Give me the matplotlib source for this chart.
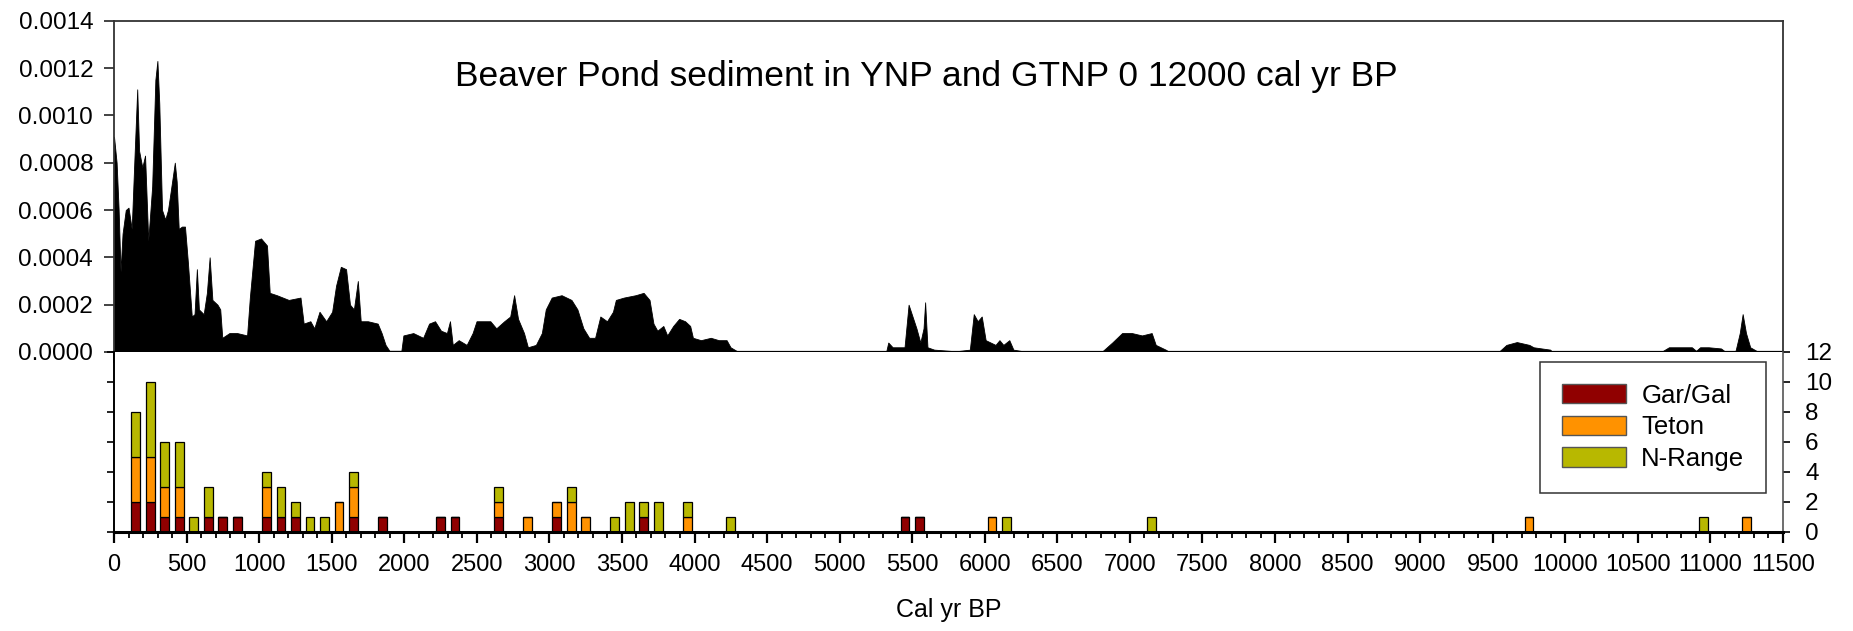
import matplotlib
matplotlib.use("Agg")
import matplotlib.pyplot as plt
from matplotlib.patches import Patch
from matplotlib.ticker import MultipleLocator, FormatStrFormatter
import numpy as np

plt.rcParams['font.family'] = ['Liberation Sans', 'DejaVu Sans']

# ---------------- top panel: charcoal-like record ----------------
ages = [0, 18, 32, 45, 59, 81, 100, 122, 141, 160, 173, 195, 214, 236, 263, 285, 299, 312, 331, 353,
        372, 391, 419, 432, 446, 468, 489, 509, 536, 555, 571, 585, 618, 640, 659, 678, 713, 732, 746, 795,
        849, 917, 936, 972, 1013, 1054, 1073, 1122, 1204, 1285, 1307, 1353, 1380, 1416, 1462, 1503, 1530, 1563, 1599, 1626,
        1653, 1680, 1700, 1749, 1817, 1844, 1871, 1898, 1980, 1994, 2062, 2130, 2171, 2212, 2253, 2294, 2315, 2334, 2375, 2430,
        2471, 2498, 2593, 2634, 2689, 2730, 2757, 2784, 2825, 2852, 2907, 2948, 2975, 3016, 3084, 3152, 3193, 3234, 3274, 3315,
        3351, 3397, 3438, 3458, 3513, 3594, 3649, 3690, 3717, 3744, 3785, 3812, 3853, 3894, 3935, 3970, 3989, 4044, 4112, 4167,
        4221, 4248, 4289, 4330, 5320, 5335, 5365, 5447, 5475, 5502, 5529, 5556, 5578, 5589, 5605, 5651, 5801, 5897, 5924, 5951,
        5979, 6006, 6074, 6101, 6128, 6169, 6197, 6265, 6810, 6878, 6946, 7014, 7083, 7150, 7178, 7246, 7273, 9540, 9594, 9666,
        9752, 9781, 9838, 9896, 9910, 10660, 10714, 10786, 10872, 10901, 10929, 10987, 11073, 11101, 11173, 11202, 11222, 11245, 11274, 11317,
        11331]
influx = [9.1e-4, 8.0e-4, 6.0e-4, 3.4e-4, 5.0e-4, 6.0e-4, 6.1e-4, 5.2e-4, 8.2e-4, 11.1e-4, 8.5e-4, 7.8e-4, 8.3e-4, 4.7e-4, 7.0e-4, 11.5e-4, 12.3e-4, 10.5e-4, 6.0e-4, 5.6e-4,
          6.0e-4, 6.8e-4, 8.0e-4, 7.2e-4, 5.2e-4, 5.3e-4, 5.3e-4, 3.8e-4, 1.5e-4, 1.6e-4, 3.5e-4, 1.8e-4, 1.6e-4, 2.5e-4, 4.0e-4, 2.2e-4, 2.0e-4, 1.8e-4, 0.6e-4, 0.8e-4,
          0.8e-4, 0.7e-4, 2.3e-4, 4.7e-4, 4.8e-4, 4.5e-4, 2.5e-4, 2.4e-4, 2.2e-4, 2.3e-4, 1.2e-4, 1.3e-4, 1.0e-4, 1.7e-4, 1.3e-4, 1.7e-4, 2.8e-4, 3.6e-4, 3.5e-4, 2.0e-4,
          1.8e-4, 3.0e-4, 1.3e-4, 1.3e-4, 1.2e-4, 0.8e-4, 0.3e-4, 0.05e-4, 0.05e-4, 0.7e-4, 0.8e-4, 0.6e-4, 1.2e-4, 1.3e-4, 0.9e-4, 0.8e-4, 1.3e-4, 0.3e-4, 0.5e-4, 0.3e-4,
          0.8e-4, 1.3e-4, 1.3e-4, 1.0e-4, 1.3e-4, 1.5e-4, 2.4e-4, 1.4e-4, 0.8e-4, 0.2e-4, 0.3e-4, 0.8e-4, 1.8e-4, 2.3e-4, 2.4e-4, 2.2e-4, 1.8e-4, 1.0e-4, 0.6e-4, 0.6e-4,
          1.5e-4, 1.3e-4, 1.7e-4, 2.2e-4, 2.3e-4, 2.4e-4, 2.5e-4, 2.2e-4, 1.2e-4, 0.9e-4, 1.1e-4, 0.7e-4, 1.1e-4, 1.4e-4, 1.3e-4, 1.1e-4, 0.6e-4, 0.5e-4, 0.6e-4, 0.5e-4,
          0.5e-4, 0.2e-4, 0.05e-4, 0.0, 0.0, 0.4e-4, 0.2e-4, 0.2e-4, 2.0e-4, 1.5e-4, 1.0e-4, 0.4e-4, 1.0e-4, 2.1e-4, 0.2e-4, 0.1e-4, 0.03e-4, 0.1e-4, 1.6e-4, 1.3e-4,
          1.5e-4, 0.5e-4, 0.3e-4, 0.5e-4, 0.3e-4, 0.5e-4, 0.1e-4, 0.03e-4, 0.03e-4, 0.4e-4, 0.8e-4, 0.8e-4, 0.7e-4, 0.8e-4, 0.3e-4, 0.1e-4, 0.0, 0.0, 0.3e-4, 0.42e-4,
          0.3e-4, 0.2e-4, 0.15e-4, 0.1e-4, 0.0, 0.0, 0.2e-4, 0.2e-4, 0.2e-4, 0.05e-4, 0.2e-4, 0.2e-4, 0.15e-4, 0.02e-4, 0.05e-4, 0.8e-4, 1.6e-4, 0.8e-4, 0.2e-4, 0.05e-4,
          0.0]

# ---------------- bottom panel: stacked counts ----------------
bin_centers = [150, 250, 350, 450, 550, 650, 750, 850, 1050, 1150, 1250, 1350, 1450, 1550, 1650, 1850,
               2250, 2350, 2650, 2850, 3050, 3150, 3250, 3450, 3550, 3650, 3750, 3950, 4250, 5450, 5550,
               6050, 6150, 7150, 9750, 10950, 11250]
gar_gal = [2, 2, 1, 1, 0, 1, 1, 1, 1, 1, 1, 0, 0, 0, 1, 1,
           1, 1, 1, 0, 1, 0, 0, 0, 0, 1, 0, 0, 0, 1, 1,
           0, 0, 0, 0, 0, 0]
teton = [3, 3, 2, 2, 0, 0, 0, 0, 2, 0, 0, 0, 0, 2, 2, 0,
         0, 0, 1, 1, 1, 2, 1, 0, 0, 0, 0, 1, 0, 0, 0,
         1, 0, 0, 1, 0, 1]
n_range = [3, 5, 3, 3, 1, 2, 0, 0, 1, 2, 1, 1, 1, 0, 1, 0,
           0, 0, 1, 0, 0, 1, 0, 1, 2, 1, 2, 1, 1, 0, 0,
           0, 1, 1, 0, 1, 0]
series_names = ['Gar/Gal', 'Teton', 'N-Range']
series_colors = ['#900000', '#FF9200', '#B8B800']

x_tick_values = list(range(0, 11501, 500))
title_text = 'Beaver Pond sediment in YNP and GTNP 0 12000 cal yr BP'
x_label = 'Cal yr BP'

# ---------------- figure ----------------
W, H = 1853, 631
fig = plt.figure(figsize=(W / 100, H / 100), dpi=100)
left = 114 / W
width = (1783 - 114) / W
ax1 = fig.add_axes([left, 1 - 352 / H, width, (352 - 20.7) / H])
ax2 = fig.add_axes([left, 1 - 532 / H, width, (532 - 352) / H])

# top panel
ax1.fill_between(ages, influx, 0, color='black', linewidth=0.6, edgecolor='black')
ax1.set_xlim(0, 11500)
ax1.set_ylim(0, 0.0014)
ax1.yaxis.set_major_locator(MultipleLocator(0.0002))
ax1.yaxis.set_major_formatter(FormatStrFormatter('%.4f'))
ax1.set_xticks(range(0, 11501, 2000))
ax1.tick_params(axis='x', direction='out', length=8, width=1.2, labelbottom=False, color='#222')
ax1.tick_params(axis='y', direction='out', length=7, width=1.2, labelsize=17.5, pad=8, color='#222')
for s in ax1.spines.values():
    s.set_color('#333333')
    s.set_linewidth(1.3)
ax1.spines['bottom'].set_color('black')
ax1.spines['bottom'].set_linewidth(1.6)
ax1.text(0.4865, 0.8325, title_text, transform=ax1.transAxes, ha='center', va='center', fontsize=25.5)

# bottom panel
bottoms = np.zeros(len(bin_centers))
for vals, name, col in zip([gar_gal, teton, n_range], series_names, series_colors):
    ax2.bar(bin_centers, vals, width=60, bottom=bottoms, color=col, edgecolor='black',
            linewidth=0.9, label=name)
    bottoms = bottoms + np.array(vals)

ax2.set_xlim(0, 11500)
ax2.set_ylim(0, 12)
ax2.set_xticks(x_tick_values)
ax2.set_xticklabels([str(v) for v in x_tick_values])
ax2.xaxis.set_minor_locator(MultipleLocator(100))
ax2.set_yticks(range(0, 13, 2))
ax2.tick_params(axis='x', which='major', direction='out', length=8, width=1.6, labelsize=17, pad=8)
ax2.tick_params(axis='x', which='minor', direction='out', length=4, width=1.3)
ax2.tick_params(axis='y', which='both', left=True, right=True, labelleft=False, labelright=True,
                direction='out', length=5, width=1.2, labelsize=17.5, pad=11)
ax2.spines['top'].set_visible(False)
ax2.spines['bottom'].set_linewidth(2.2)
ax2.spines['left'].set_linewidth(1.4)
ax2.spines['right'].set_color('#555555')
ax2.spines['right'].set_linewidth(1.2)
ax2.set_xlabel(x_label, fontsize=18, labelpad=16)

handles = [Patch(facecolor=c, edgecolor='#555555', linewidth=1.0, label=n)
           for n, c in zip(series_names, series_colors)]
leg = ax2.legend(handles=handles, loc='upper right', bbox_to_anchor=(0.99, 0.946),
                 fontsize=18.5, frameon=True, fancybox=False, framealpha=1,
                 edgecolor='#333333', borderpad=0.85, handlelength=2.5, handleheight=0.8,
                 handletextpad=0.6, labelspacing=0.3, borderaxespad=0)
leg.get_frame().set_linewidth(1.1)

fig.savefig('out.png', dpi=100, facecolor='white')
